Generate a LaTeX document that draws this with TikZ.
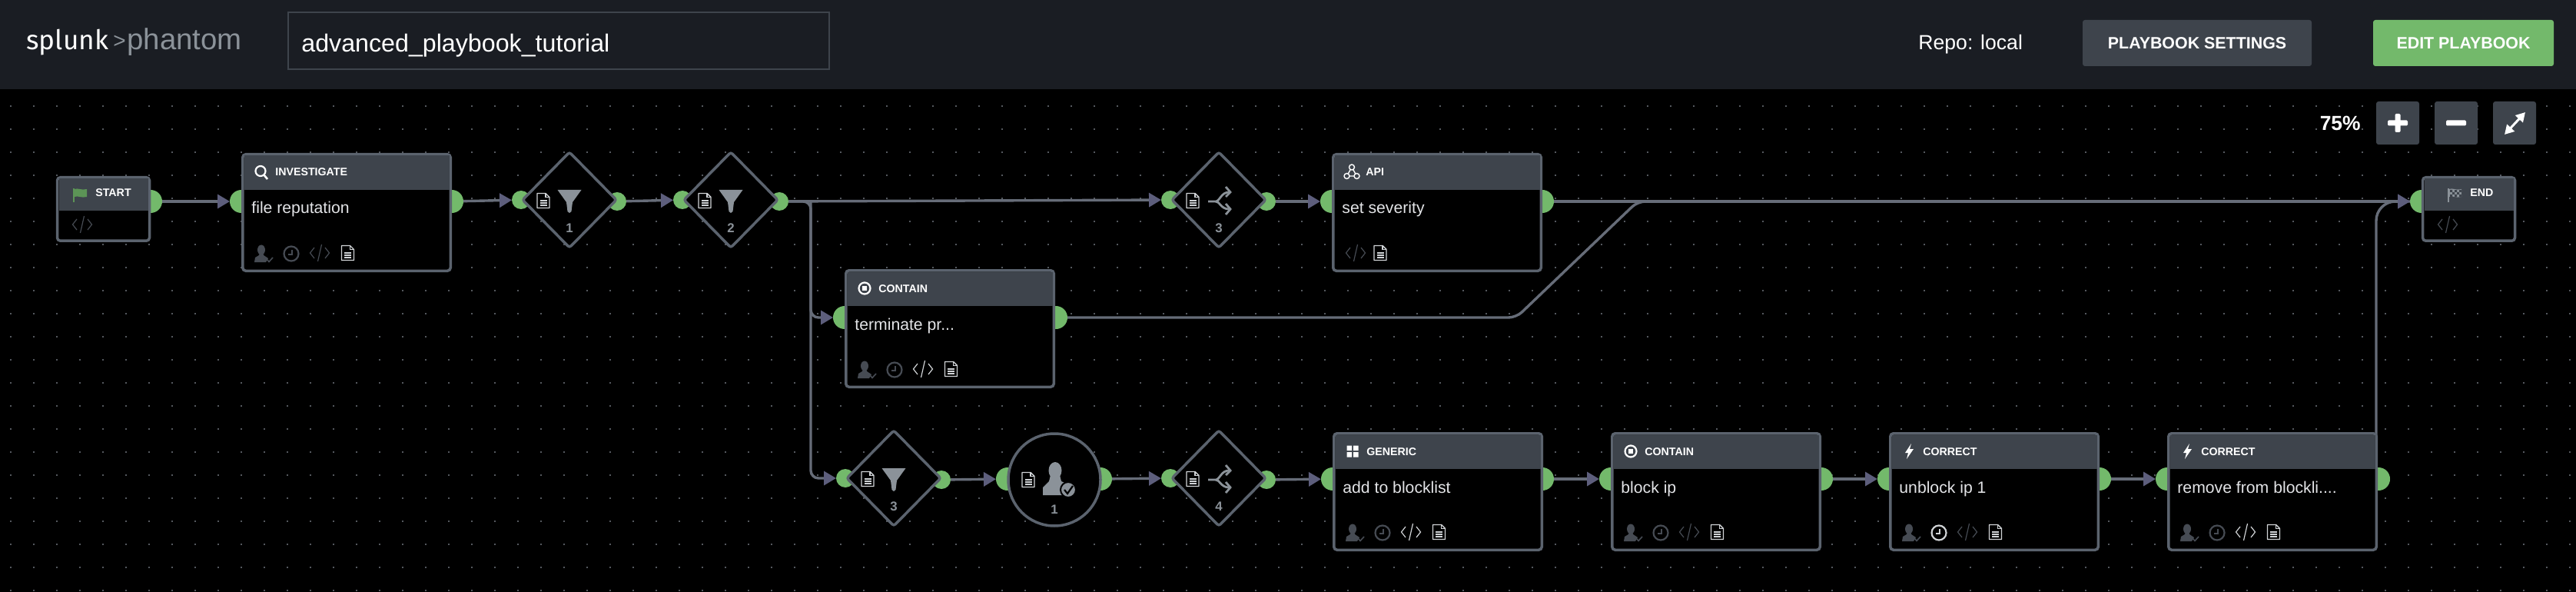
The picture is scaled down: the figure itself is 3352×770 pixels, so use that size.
\documentclass[tikz,border=0pt]{standalone}
\usepackage{fontspec}
\setmainfont{Liberation Sans}
\newfontfamily\logofont{Fira Sans}
\usetikzlibrary{shapes.geometric}
\usetikzlibrary{arrows.meta}
\definecolor{canvasblack}{RGB}{0,0,0}
\definecolor{barblack}{RGB}{26,29,35}
\definecolor{panelgrey}{RGB}{62,68,76}
\definecolor{edgegrey}{RGB}{91,99,110}
\definecolor{wiregrey}{RGB}{102,108,120}
\definecolor{tipgrey}{RGB}{93,94,124}
\definecolor{portgreen}{RGB}{115,185,107}
\definecolor{griddot}{RGB}{84,88,94}
\definecolor{iconbright}{RGB}{208,211,214}
\definecolor{icondim}{RGB}{70,75,83}
\definecolor{markgrey}{RGB}{139,146,153}
\tikzset{
    blockbox/.style={draw=edgegrey, fill=canvasblack, line width=1.75pt, rounded corners=2pt,
        inner sep=0pt, outer sep=0pt},
    gatebox/.style={diamond, aspect=1, draw=edgegrey, fill=canvasblack, line width=1.75pt,
        rounded corners=1.5pt, inner sep=0pt, outer sep=0pt, minimum width=61pt, minimum height=62pt},
    promptbox/.style={circle, draw=edgegrey, fill=canvasblack, line width=1.75pt,
        inner sep=0pt, outer sep=0pt, minimum size=60pt},
    blockport/.style={circle, fill=portgreen, inner sep=0pt, outer sep=0pt, minimum size=15pt},
    gateport/.style={circle, fill=portgreen, inner sep=0pt, outer sep=0pt, minimum size=12pt},
    wireline/.style={draw=wiregrey, line width=1.7pt},
    wire/.style={wireline, -{Triangle[length=8pt,width=9pt,color=tipgrey]}},
    headtext/.style={anchor=base west, inner sep=0pt, text=white, font=\fontsize{7.1}{9}\bfseries\selectfont},
    labeltext/.style={anchor=base west, inner sep=0pt, text=iconbright!60!white, font=\fontsize{10.6}{12}\selectfont},
    marktext/.style={inner sep=0pt, text=markgrey, font=\fontsize{8.4}{10}\bfseries\selectfont},
    barbutton/.style={rounded corners=1.5pt, inner sep=0pt, text=white, minimum height=30pt,
        font=\fontsize{10.7}{12}\bfseries\selectfont},
    zoombutton/.style={fill=panelgrey, rounded corners=1.5pt, inner sep=0pt, minimum size=28pt},
    % Small icons, drawn in pixel units round their middle
    docicon/.pic={
        \draw[line width=.7pt, line join=round] (-8,-9.5) -- (3,-9.5) -- (8,-4.5) -- (8,9.5) -- (-8,9.5) -- cycle;
        \draw[line width=.6pt] (3,-9.5) -- (3,-4.5) -- (8,-4.5);
        \draw[line width=.7pt] (-4.5,0) -- (4.5,0) (-4.5,3) -- (4.5,3) (-4.5,6) -- (4.5,6);
    },
    codeicon/.pic={
        \draw[line width=.6pt] (-7,-7) -- (-12.5,0) -- (-7,7) (7,-7) -- (12.5,0) -- (7,7) (2.5,-11) -- (-2.5,11);
    },
    clockicon/.pic={
        \draw[line width=1.1pt] (0,0) circle (9.5);
        \draw[line width=.7pt] (1,-5) -- (1,1) -- (-4,1);
    },
    personicon/.pic={
        \fill (-3,-5) ellipse (5 and 6.5);
        \fill (-5,-1) -- (-1,-1) -- (0,2) -- (6,6) -- (3,11) -- (-12,11) -- (-11,5) -- (-6,2) -- cycle;
        \draw[line width=.8pt] (4,7) -- (7,10.5) -- (12,5);
    },
    funnelicon/.pic={
        \fill (-15.5,-13) -- (15.5,-13) -- (4,3) -- (2.5,15) -- (0,17) -- (-2.5,15) -- (-4,3) -- cycle;
    },
    forkicon/.pic={
        \draw[line width=1.4pt] (-14,2) -- (-4,2) .. controls (1,2) and (3,-10) .. (13,-10);
        \draw[line width=1.4pt] (-4,2) .. controls (1,2) and (3,12) .. (13,12);
        \draw[line width=1.4pt] (9,-17) -- (15,-10) -- (9,-4) (9,5) -- (15,12) -- (9,19);
    },
    searchicon/.pic={
        \draw[line width=1.1pt] (-1,-1.5) circle (6.5);
        \draw[line width=1.3pt] (3.5,3.5) -- (8,9);
    },
    containicon/.pic={
        \draw[line width=1.1pt] (0,0) circle (7.5);
        \fill (-3,-3) rectangle (3,3);
    },
    apiicon/.pic={
        \draw[line width=.7pt] (0,-6.5) -- (-6.5,5) -- (6.5,5) -- cycle;
        \filldraw[line width=.7pt, fill=panelgrey] (0,-6.5) circle (3.5) (-6.5,5) circle (3.5) (6.5,5) circle (3.5);
    },
    gridicon/.pic={
        \fill (-7.5,-7.5) rectangle (-1,-1) (1,-7.5) rectangle (7.5,-1) (-7.5,1) rectangle (-1,7.5) (1,1) rectangle (7.5,7.5);
    },
    bolticon/.pic={
        \fill (3,-10) -- (-5,2) -- (-1,2) -- (-3,10) -- (6,-3) -- (1,-3) -- cycle;
    },
    flagicon/.pic={
        \draw[line width=.6pt] (-8,-8) -- (-8,10);
        \fill (-7,-7) .. controls (-3,-9) and (2,-5) .. (9,-7) -- (9,3) .. controls (2,5) and (-3,1) .. (-7,3) -- cycle;
    },
}
% name, left, top, icon, title, label
\newcommand{\bigblock}[6]{
    \node[blockbox, minimum width=135.25pt, minimum height=75.75pt] (#1) at (#2+137,#3+77.5) {};
    \fill[panelgrey] (#2+3.5,#3+3.5) rectangle (#2+270.5,#3+48);
    \pic[color=white] at (#2+26,#3+25) {#4};
    \node[headtext] (#1-title) at (#2+44,#3+30) {#5};
    \node[labeltext] (#1-label) at (#2+13,#3+79) {#6};
}
% left, top, clock colour, code colour
\newcommand{\iconrow}[4]{
    \pic[color=icondim] at (#1+29,#2+131) {personicon};
    \pic[color=#3] at (#1+65,#2+131) {clockicon};
    \pic[color=#4] at (#1+102,#2+130) {codeicon};
    \pic[color=iconbright] at (#1+138.5,#2+130) {docicon};
}
% name, left, top, flag colour, title, flag offset
\newcommand{\tipblock}[6]{
    \node[blockbox, minimum width=60pt, minimum height=41.25pt] (#1) at (#2+61.5,#3+43) {};
    \fill[panelgrey] (#2+3.5,#3+3.5) rectangle (#2+119.5,#3+45);
    \pic[color=#4] at (#2+#6,#3+24) {flagicon};
    \node[headtext] (#1-title) at (#2+#6+20,#3+27) {#5};
    \pic[color=icondim] at (#2+34,#3+63) {codeicon};
}
% name, middle x, middle y, icon, number
\newcommand{\gateblock}[5]{
    \node[gatebox] (#1) at (#2,#3) {};
    \pic[color=iconbright] at (#2-34,#3+1) {docicon};
    \pic[color=markgrey] at (#2,#3) {#4};
    \node[marktext] (#1-mark) at (#2,#3+37) {#5};
}

\begin{document}
\begin{tikzpicture}[x=0.5pt, y=-0.5pt]
    \useasboundingbox (0,0) rectangle (3352,770);

    % Canvas and its dots
    \fill[canvasblack] (0,0) rectangle (3352,770);
    \foreach \dotx in {13,43,...,3343}
        \foreach \doty in {137,167,...,767}
            \fill[griddot] (\dotx,\doty) rectangle +(2,2);

    % Top bar
    \fill[barblack] (0,0) rectangle (3352,116);
    \node[anchor=base west, inner sep=0pt, text=white, font=\logofont\fontsize{17.6}{20}\selectfont] (logosplunk) at (34,65) {splunk};
    \node[anchor=base west, inner sep=0pt, text=markgrey, font=\fontsize{14}{20}\selectfont] (logomark) at (147,63) {>};
    \node[anchor=base west, inner sep=0pt, text=markgrey, font=\fontsize{19.2}{20}\selectfont] (logophantom) at (165,65) {phantom};
    \node[draw=panelgrey, line width=1pt, inner sep=0pt, outer sep=0pt, minimum width=352pt, minimum height=37pt] (namebox) at (726.5,53.5) {};
    \node[anchor=base west, inner sep=0pt, text=white, font=\fontsize{16.1}{18}\selectfont] (nametext) at (392,68) {advanced\_playbook\_tutorial};
    \node[anchor=base west, inner sep=0pt, text=white, font=\fontsize{13.3}{15}\selectfont] (repotext) at (2496,65) {Repo: local};
    \node[barbutton, fill=panelgrey, minimum width=149pt] (settings) at (2859,56) {PLAYBOOK SETTINGS};
    \node[barbutton, fill=portgreen, minimum width=117.5pt] (editbook) at (3205.5,56) {EDIT PLAYBOOK};

    % Zoom controls
    \node[anchor=base east, inner sep=0pt, text=white, font=\fontsize{13.2}{15}\bfseries\selectfont] (zoomtext) at (3072,170) {75\%};
    \node[zoombutton] (zoomin) at (3120,160) {};
    \node[zoombutton] (zoomout) at (3196,160) {};
    \node[zoombutton] (zoomfit) at (3272,160) {};
    \fill[white, rounded corners=.7pt] (3116.5,148) rectangle (3123.5,172) (3107,156.5) rectangle (3133,163.5);
    \fill[white, rounded corners=.7pt] (3183,156.5) rectangle (3209,163.5);
    \draw[white, line width=1.5pt, {Triangle[length=6pt,width=6.5pt]}-{Triangle[length=6pt,width=6.5pt]}] (3259,175) -- (3286,146);

    % Ports
    \node[blockport] (start-out) at (196,262) {};
    \node[blockport] (inv-in) at (314,262) {};
    \node[blockport] (inv-out) at (588,262) {};
    \node[gateport] (gate1-in) at (678,260) {};
    \node[gateport] (gate1-out) at (803,262) {};
    \node[gateport] (gate2-in) at (888,260) {};
    \node[gateport] (gate2-out) at (1014,262) {};
    \node[gateport] (gate3-in) at (1523,260) {};
    \node[gateport] (gate3-out) at (1648,262) {};
    \node[blockport] (api-in) at (1733,262) {};
    \node[blockport] (api-out) at (2007,262) {};
    \node[blockport] (term-in) at (1099,413) {};
    \node[blockport] (term-out) at (1374,413) {};
    \node[gateport] (gate5-in) at (1100,622) {};
    \node[gateport] (gate5-out) at (1225,624) {};
    \node[blockport] (ask-in) at (1311,623) {};
    \node[blockport] (ask-out) at (1432,623) {};
    \node[gateport] (gate4-in) at (1523,622) {};
    \node[gateport] (gate4-out) at (1648,624) {};
    \node[blockport] (gen-in) at (1734,623) {};
    \node[blockport] (gen-out) at (2007,623) {};
    \node[blockport] (block-in) at (2096,623) {};
    \node[blockport] (block-out) at (2370,623) {};
    \node[blockport] (unblock-in) at (2458,623) {};
    \node[blockport] (unblock-out) at (2732,623) {};
    \node[blockport] (remove-in) at (2820,623) {};
    \node[blockport] (remove-out) at (3095,623) {};
    \node[blockport] (end-in) at (3151,262) {};

    % Connectors
    \coordinate (branch) at (1055,262);
    \coordinate (kink) at (1973,413);
    \coordinate (joint) at (2131,262);
    \coordinate (riser) at (3092,623);
    \draw[wire] (start-out) -- (inv-in);
    \draw[wire] (inv-out) -- (gate1-in);
    \draw[wire] (gate1-out) -- (gate2-in);
    \draw[wire] (gate2-out) -- (gate3-in);
    \draw[wire] (gate3-out) -- (api-in);
    \draw[wire] (api-out) -- (end-in);
    \draw[wire, rounded corners=5pt] (branch) |- (term-in);
    \draw[wire, rounded corners=5pt] (gate2-out) -- (branch) |- (gate5-in);
    \draw[wireline, rounded corners=5pt] (term-out) -- (kink) -- (joint) -- (end-in);
    \draw[wire] (gate5-out) -- (ask-in);
    \draw[wire] (ask-out) -- (gate4-in);
    \draw[wire] (gate4-out) -- (gen-in);
    \draw[wire] (gen-out) -- (block-in);
    \draw[wire] (block-out) -- (unblock-in);
    \draw[wire] (unblock-out) -- (remove-in);
    \draw[wire, rounded corners=12.5pt] (riser) |- (end-in);

    % Top row
    \tipblock{start}{73}{229}{portgreen!80!black}{START}{31}
    \bigblock{inv}{314}{199}{searchicon}{INVESTIGATE}{file reputation}
    \iconrow{314}{199}{icondim}{icondim}
    \gateblock{gate1}{741}{260}{funnelicon}{1}
    \gateblock{gate2}{951}{260}{funnelicon}{2}
    \gateblock{gate3}{1586}{260}{forkicon}{3}
    \bigblock{api}{1733}{199}{apiicon}{API}{set severity}
    \pic[color=icondim] at (1764,329) {codeicon};
    \pic[color=iconbright] at (1796,329) {docicon};
    \tipblock{end}{3151}{229}{markgrey}{END}{43}

    % Checks on the end flag
    \foreach \chkx in {3188,3194,3200}
        \fill[panelgrey] (\chkx,247) rectangle +(3,3) (\chkx+3,250) rectangle +(3,3) (\chkx,253) rectangle +(3,3);

    % Middle row
    \bigblock{term}{1099}{350}{containicon}{CONTAIN}{terminate pr...}
    \iconrow{1099}{350}{icondim}{iconbright}

    % Bottom row
    \gateblock{gate5}{1163}{622}{funnelicon}{3}
    \node[promptbox] (ask) at (1372,624) {};
    \pic[color=iconbright] at (1338,624) {docicon};
    \fill[markgrey] (1373,612) ellipse (8.5 and 11);
    \fill[markgrey] (1367,618) -- (1379,618) -- (1381,626) -- (1398,634) -- (1398,644) -- (1357,644) -- (1357,634) -- (1365,626) -- cycle;
    \filldraw[draw=canvasblack, fill=markgrey, line width=1pt] (1390,637) circle (10);
    \draw[canvasblack, line width=1.1pt] (1385,637) -- (1389,642) -- (1396,632);
    \node[marktext] (ask-mark) at (1372,663) {1};
    \gateblock{gate4}{1586}{622}{forkicon}{4}
    \bigblock{gen}{1734}{562}{gridicon}{GENERIC}{add to blocklist}
    \iconrow{1734}{562}{icondim}{iconbright}
    \bigblock{block}{2096}{562}{containicon}{CONTAIN}{block ip}
    \iconrow{2096}{562}{icondim}{icondim}
    \bigblock{unblock}{2458}{562}{bolticon}{CORRECT}{unblock ip 1}
    \iconrow{2458}{562}{iconbright}{icondim}
    \bigblock{remove}{2820}{562}{bolticon}{CORRECT}{remove from blockli....}
    \iconrow{2820}{562}{icondim}{iconbright}
\end{tikzpicture}
\end{document}
